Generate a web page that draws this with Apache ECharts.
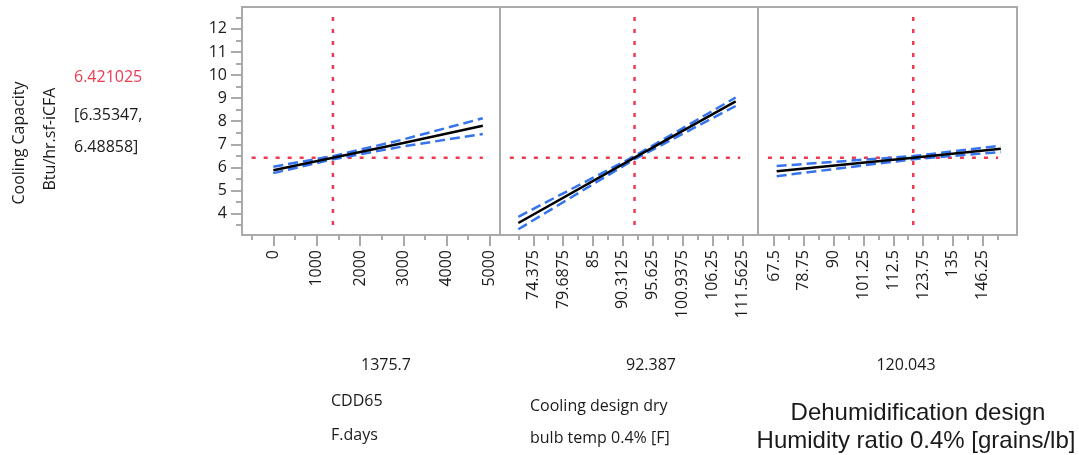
<!DOCTYPE html>
<html><head><meta charset="utf-8">
<script src="https://cdn.jsdelivr.net/npm/echarts@6/dist/echarts.min.js"></script>
<style>html,body{margin:0;padding:0;background:#fff;}#c{width:1079px;height:455px;}</style>
</head><body><div id="c"></div>
<script>
// ---------- data ----------
const yTicks = [4, 5, 6, 7, 8, 9, 10, 11, 12];
const yMinorTicks = [3.5, 4.5, 5.5, 6.5, 7.5, 8.5, 9.5, 10.5, 11.5, 12.5];
const predicted = 6.421025;
const ciLower = 6.35347;
const ciUpper = 6.48858;
const currentX = [1375.7, 92.387, 120.043];

// CDD65 panel
const cddTicks = [0, 1000, 2000, 3000, 4000, 5000];
const cddTickLabels = ['0', '1000', '2000', '3000', '4000', '5000'];
const cddMinorTicks = [-500, 500, 1500, 2500, 3500, 4500];
const cddX = [0, 1375.7, 3000, 4836];
const cddPred = [5.88, 6.421025, 7.06, 7.80];
const cddUpper = [6.03, 6.48858, 7.21, 8.13];
const cddLower = [5.75, 6.35347, 6.91, 7.45];
const cddRefSpan = [-500, 4836];

// Cooling design dry bulb panel
const dbTicks = [74.375, 79.6875, 85, 90.3125, 95.625, 100.9375, 106.25, 111.5625];
const dbTickLabels = ['74.375', '79.6875', '85', '90.3125', '95.625', '100.9375', '106.25', '111.5625'];
const dbMinorTicks = [71.71875, 77.03125, 82.34375, 87.65625, 92.96875, 98.28125, 103.59375, 108.90625];
const dbX = [71.71, 92.387, 110.38];
const dbPred = [3.59, 6.421025, 8.86];
const dbUpper = [3.86, 6.48858, 9.03];
const dbLower = [3.32, 6.35347, 8.66];
const dbRefSpan = [70.2, 111.2];

// Dehumidification humidity ratio panel
const hrTicks = [67.5, 78.75, 90, 101.25, 112.5, 123.75, 135, 146.25];
const hrTickLabels = ['67.5', '78.75', '90', '101.25', '112.5', '123.75', '135', '146.25'];
const hrMinorTicks = [73.125, 84.375, 95.625, 106.875, 118.125, 129.375, 140.625, 151.875];
const hrX = [68.5, 120.043, 153.1];
const hrPred = [5.83, 6.421025, 6.81];
const hrUpper = [6.06, 6.48858, 6.94];
const hrLower = [5.62, 6.35347, 6.67];
const hrRefSpan = [65.2, 152.1];

const refYSpan = [3.5, 12.55];

// ---------- layout / style ----------
const RED = '#ee3a50', BLUE = '#3574ee', GRAY = '#aaaaaa', TXT = '#1a1a1a';
const FONT = '"Open Sans", "Noto Sans", sans-serif';
const yMin = 3.07, yMax = 12.95;

const panels = [
  {left: 242, width: 258, min: -723, max: 5233, ticks: cddTicks, labels: cddTickLabels, minor: cddMinorTicks,
   x: cddX, pred: cddPred, up: cddUpper, lo: cddLower, span: cddRefSpan},
  {left: 500, width: 258, min: 68.45, max: 114.35, ticks: dbTicks, labels: dbTickLabels, minor: dbMinorTicks,
   x: dbX, pred: dbPred, up: dbUpper, lo: dbLower, span: dbRefSpan},
  {left: 758, width: 259, min: 61.46, max: 159.2, ticks: hrTicks, labels: hrTickLabels, minor: hrMinorTicks,
   x: hrX, pred: hrPred, up: hrUpper, lo: hrLower, span: hrRefSpan}
];

const grid = [], xAxis = [], yAxis = [], series = [];
const noLine = {show: false, onZero: false};
panels.forEach((p, i) => {
  grid.push({left: p.left, width: p.width, top: 7, height: 228, show: true,
    borderColor: GRAY, borderWidth: 2, backgroundColor: 'transparent'});
  xAxis.push({type: 'value', gridIndex: i, min: p.min, max: p.max, position: 'bottom',
    axisLine: noLine, splitLine: {show: false},
    axisTick: {show: true, length: 11, customValues: p.ticks, lineStyle: {color: GRAY, width: 2}},
    axisLabel: {show: true, customValues: p.ticks, rotate: 90, margin: 15, fontSize: 16,
      fontFamily: FONT, color: TXT,
      formatter: v => { const k = p.ticks.indexOf(v); return k >= 0 ? p.labels[k] : ''; }}});
  xAxis.push({type: 'value', gridIndex: i, min: p.min, max: p.max, position: 'bottom',
    axisLine: noLine, splitLine: {show: false},
    axisTick: {show: true, length: 5, customValues: p.minor, lineStyle: {color: GRAY, width: 2}},
    axisLabel: {show: false}});
});
yAxis.push({type: 'value', gridIndex: 0, min: yMin, max: yMax, position: 'left',
  axisLine: noLine, splitLine: {show: false},
  axisTick: {show: true, length: 11, customValues: yTicks, lineStyle: {color: GRAY, width: 2}},
  axisLabel: {show: true, customValues: yTicks, margin: 15, fontSize: 16, fontFamily: FONT, color: TXT}});
yAxis.push({type: 'value', gridIndex: 0, min: yMin, max: yMax, position: 'left',
  axisLine: noLine, splitLine: {show: false},
  axisTick: {show: true, length: 6, customValues: yMinorTicks, lineStyle: {color: GRAY, width: 2}},
  axisLabel: {show: false}});
yAxis.push({type: 'value', gridIndex: 1, min: yMin, max: yMax, show: false, axisLine: noLine});
yAxis.push({type: 'value', gridIndex: 2, min: yMin, max: yMax, show: false, axisLine: noLine});

const yIdx = [0, 2, 3];
panels.forEach((p, i) => {
  const xa = i * 2, ya = yIdx[i];
  const common = {type: 'line', xAxisIndex: xa, yAxisIndex: ya, symbol: 'none', silent: true, animation: false};
  series.push(Object.assign({}, common, {
    data: [[p.span[0], predicted], [p.span[1], predicted]],
    lineStyle: {color: RED, width: 2.5, type: [4, 8]}, z: 2}));
  series.push(Object.assign({}, common, {
    data: [[currentX[i], refYSpan[0]], [currentX[i], refYSpan[1]]],
    lineStyle: {color: RED, width: 2.5, type: [4, 8]}, z: 2}));
  series.push(Object.assign({}, common, {
    data: p.x.map((x, k) => [x, p.up[k]]),
    lineStyle: {color: BLUE, width: 2.5, type: [10, 5]}, z: 3}));
  series.push(Object.assign({}, common, {
    data: p.x.map((x, k) => [x, p.lo[k]]),
    lineStyle: {color: BLUE, width: 2.5, type: [10, 5]}, z: 3}));
  series.push(Object.assign({}, common, {
    data: p.x.map((x, k) => [x, p.pred[k]]),
    lineStyle: {color: '#000', width: 2.5}, z: 4}));
});

function txt(text, x, y, opts) {
  opts = opts || {};
  return {type: 'text', x: x, y: y, rotation: opts.rot || 0, silent: true,
    style: {text: text, font: (opts.size || 16) + 'px ' + (opts.family || FONT), fill: opts.color || TXT,
      textAlign: opts.align || 'left', align: opts.align || 'left',
      textVerticalAlign: 'middle', verticalAlign: 'middle'}};
}
const ARIAL = '"Liberation Sans", Arial, sans-serif';
const graphic = [
  txt('Cooling Capacity', 19, 143, {rot: Math.PI / 2, align: 'center'}),
  txt('Btu/hr.sf-iCFA', 50, 139, {rot: Math.PI / 2, align: 'center'}),
  txt(String(predicted), 74, 77, {color: RED}),
  txt('[' + ciLower + ',', 74, 115),
  txt(ciUpper + ']', 74, 147),
  txt(String(currentX[0]), 386, 365, {align: 'center'}),
  txt(String(currentX[1]), 651, 365, {align: 'center'}),
  txt(String(currentX[2]), 906, 365, {align: 'center'}),
  txt('CDD65', 331, 401),
  txt('F.days', 331, 435),
  txt('Cooling design dry', 530, 406),
  txt('bulb temp 0.4% [F]', 530, 438),
  txt('Dehumidification design', 918, 413, {align: 'center', size: 24, family: ARIAL}),
  txt('Humidity ratio 0.4% [grains/lb]', 916, 441, {align: 'center', size: 24, family: ARIAL})
];

const chart = echarts.init(document.getElementById('c'), null, {renderer: 'canvas'});
chart.setOption({animation: false, backgroundColor: '#fff', grid, xAxis, yAxis, series, graphic});
</script>
</body></html>
